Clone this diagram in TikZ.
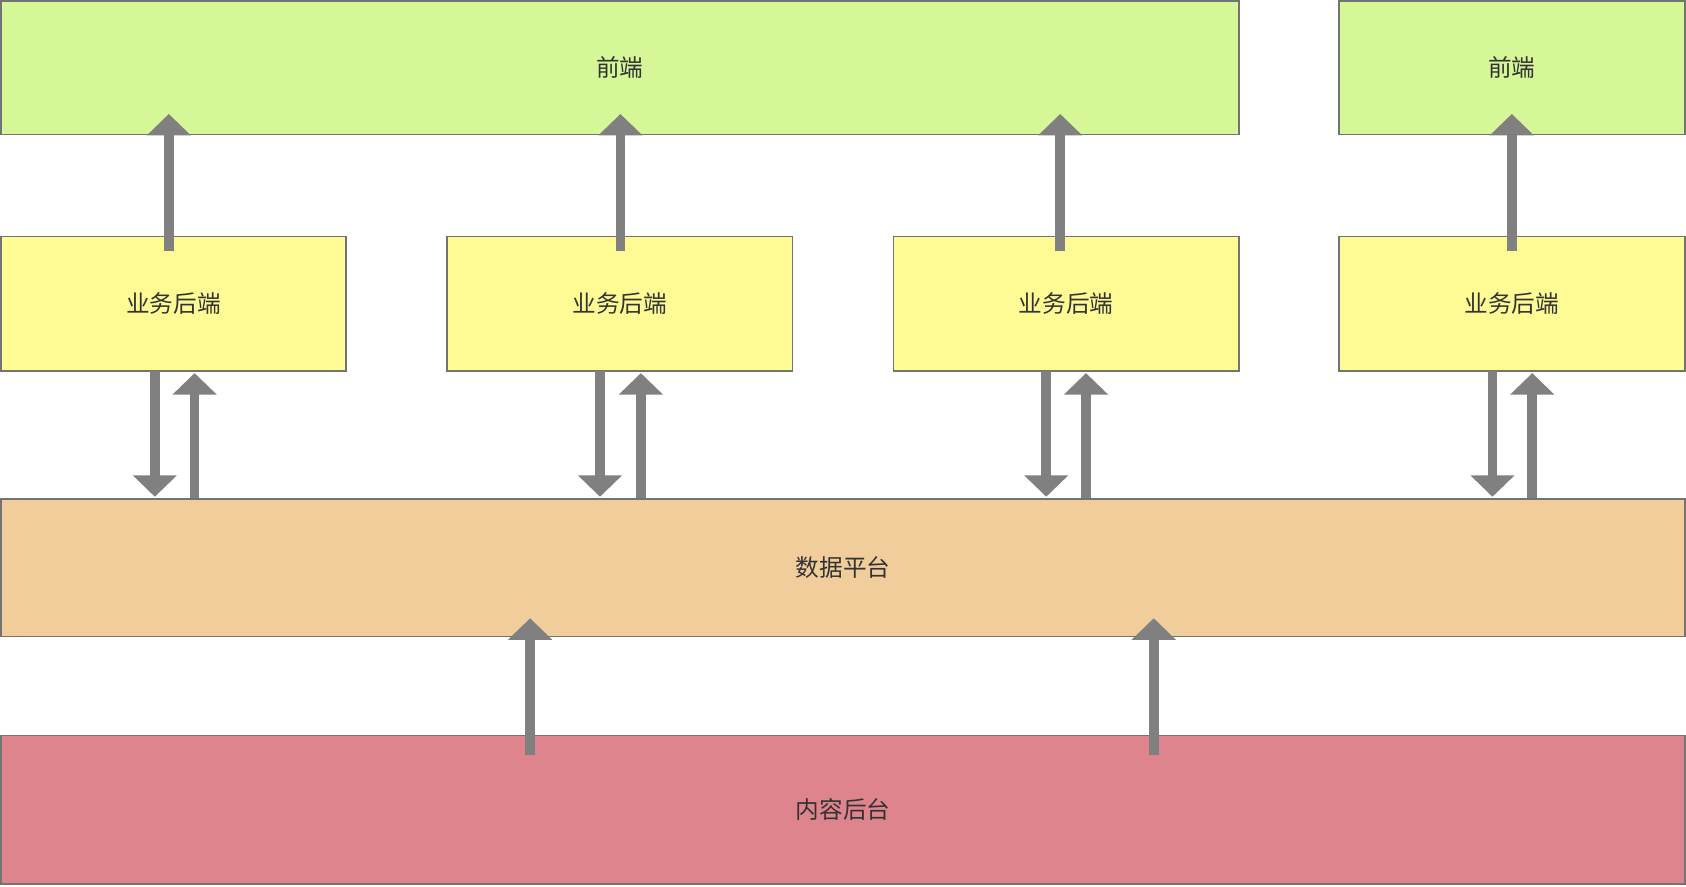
\documentclass[tikz,border=0pt]{standalone}
\usepackage{fontspec}
\newfontfamily\cjk{Noto Sans CJK SC}
\usetikzlibrary{arrows.meta,positioning}
\definecolor{frontgreen}{HTML}{D6F797}
\definecolor{bizyellow}{HTML}{FFFB94}
\definecolor{dataorange}{HTML}{F2CD9C}
\definecolor{cmsred}{HTML}{DD848C}
\definecolor{arrowgray}{HTML}{808080}
\tikzset{
	box/.style={draw=black!55, line width=0.8pt, text=black!80, font=\cjk\fontsize{11}{13}\selectfont},
	bigarrow/.style={-{Triangle[width=20pt,length=10pt]}, line width=4.5pt, color=arrowgray}
}
\begin{document}
\begin{tikzpicture}[x=0.5pt,y=-0.5pt]
	\useasboundingbox (0,0) rectangle (1568,824);
	\draw[box, fill=frontgreen] (1,1) rectangle (1152,125) node[midway] (front1) {前端};
	\draw[box, fill=frontgreen] (1245,1) rectangle (1567,125) node[midway] (front2) {前端};
	\draw[box, fill=bizyellow] (1,220) rectangle (322,345) node[midway] (biz1) {业务后端};
	\draw[box, fill=bizyellow] (416,220) rectangle (737,345) node[midway] (biz2) {业务后端};
	\draw[box, fill=bizyellow] (831,220) rectangle (1152,345) node[midway] (biz3) {业务后端};
	\draw[box, fill=bizyellow] (1245,220) rectangle (1567,345) node[midway] (biz4) {业务后端};
	\draw[box, fill=dataorange] (1,464) rectangle (1567,592) node[midway] (data) {数据平台};
	\draw[box, fill=cmsred] (1,684) rectangle (1567,822) node[midway] (cms) {内容后台};
	% biz -> front
	\foreach \i/\x in {1/157,2/577,3/986,4/1406} {
		\coordinate (bt\i) at (\x,233);
		\coordinate (ft\i) at (\x,106);
		\draw[bigarrow] (bt\i) -- (ft\i);
	}
	% biz <-> data
	\foreach \i/\x/\y in {1/144/181,2/558/596,3/973/1010,4/1388/1425} {
		\coordinate (bd\i) at (\x,345);
		\coordinate (dd\i) at (\x,462);
		\coordinate (du\i) at (\y,463);
		\coordinate (bu\i) at (\y,347);
		\draw[bigarrow] (bd\i) -- (dd\i);
		\draw[bigarrow] (du\i) -- (bu\i);
	}
	% cms -> data
	\foreach \i/\x in {1/493,2/1073} {
		\coordinate (cs\i) at (\x,702);
		\coordinate (cd\i) at (\x,575);
		\draw[bigarrow] (cs\i) -- (cd\i);
	}
\end{tikzpicture}
\end{document}
